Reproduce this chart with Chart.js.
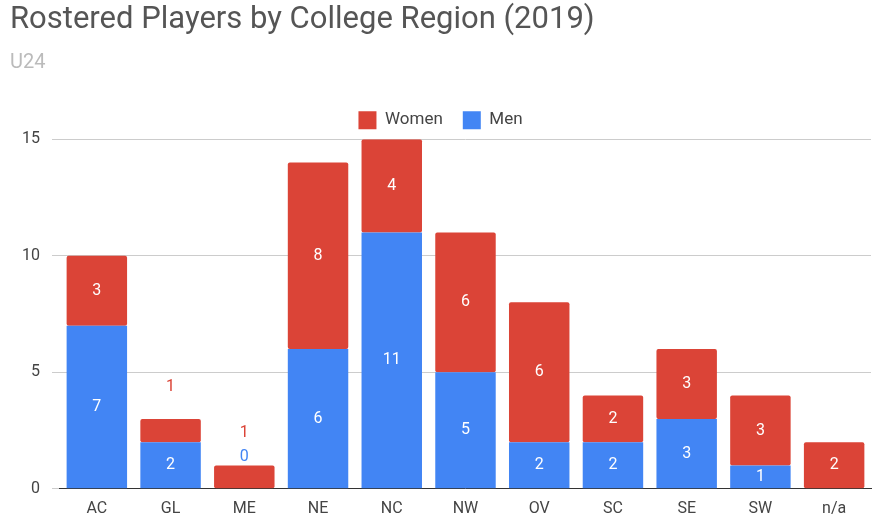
<!DOCTYPE html>
<html><head><meta charset="utf-8">
<script src="https://cdn.jsdelivr.net/npm/chart.js@4"></script>
<style>html,body{margin:0;background:#fff}#w{width:885px;height:532px}</style>
</head><body><div id="w"><canvas id="c"></canvas></div>
<script>
const categories=["AC","GL","ME","NE","NC","NW","OV","SC","SE","SW","n/a"];
const men=[7,2,0,6,11,5,2,2,3,1,null];
const women=[3,1,1,8,4,6,6,2,3,3,2];
const yTicks=[0,5,10,15];
const RED="#db4437",BLUE="#4285f4";
const labelPlugin={id:"lbl",afterDatasetsDraw(ch){
 const ctx=ch.ctx;ctx.save();ctx.font="16px Roboto";ctx.textAlign="center";ctx.textBaseline="middle";
 const m0=ch.getDatasetMeta(0),m1=ch.getDatasetMeta(1);
 categories.forEach((c,i)=>{
  const total=(men[i]||0)+(women[i]||0);
  const stackTop=m1.data[i].y;
  [[0,men[i],m0,BLUE,8],[1,women[i],m1,RED,32]].forEach(([d,v,m,col,off])=>{
   if(v===null)return;
   const b=m.data[i];const h=Math.abs(b.base-b.y);
   if(h<25&&total<4){ctx.fillStyle=col;ctx.fillText(String(v),b.x,stackTop-off);}
   else{ctx.fillStyle="#fff";ctx.fillText(String(v),b.x,(b.y+b.base)/2);}
  });
 });ctx.restore();}};
new Chart(document.getElementById("c"),{type:"bar",
 data:{labels:categories,datasets:[
  {label:"Men",data:men,backgroundColor:BLUE,borderRadius:2,borderSkipped:false,order:1},
  {label:"Women",data:women,backgroundColor:RED,borderRadius:2,borderSkipped:false,order:2}]},
 options:{responsive:true,maintainAspectRatio:false,animation:false,
  layout:{padding:{left:10,right:14,top:2,bottom:10}},
  plugins:{
   title:{display:true,text:"Rostered Players by College Region (2019)",align:"start",color:"#555",font:{family:"Roboto",size:31,weight:"normal"},padding:{top:0,bottom:12}},
   subtitle:{display:true,text:"U24",align:"start",color:"#bbb",font:{family:"Roboto",size:20},padding:{bottom:16}},
   legend:{reverse:true,labels:{boxWidth:18,boxHeight:18,color:"#444",font:{family:"Roboto",size:17},padding:20},padding:{bottom:20}},
   tooltip:{enabled:false}},
  scales:{
   x:{stacked:true,grid:{display:false},border:{color:"#333"},ticks:{color:"#444",font:{family:"Roboto",size:16}}},
   y:{stacked:true,min:0,max:15,afterBuildTicks(a){a.ticks=yTicks.map(v=>({value:v}));},
      grid:{color:"#ccc"},border:{display:false},ticks:{color:"#444",padding:12,font:{family:"Roboto",size:16}}}},
  datasets:{bar:{barPercentage:0.82,categoryPercentage:1}}},
 plugins:[labelPlugin]});
</script></body></html>
